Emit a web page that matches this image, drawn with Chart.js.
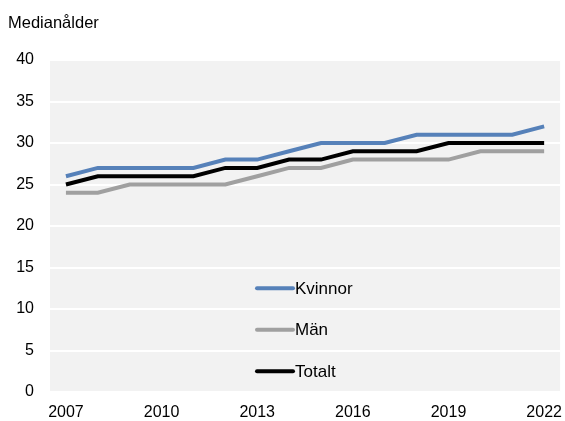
<!DOCTYPE html>
<html>
<head>
<meta charset="utf-8">
<script src="https://cdn.jsdelivr.net/npm/chart.js@4"></script>
<style>
    body { margin: 0; background: #fff; }
    canvas { display: block; }
</style>
</head>
<body>
<canvas id="ageChart" width="565" height="421"></canvas>
<script>
const years = ["2007", "2008", "2009", "2010", "2011", "2012", "2013", "2014",
               "2015", "2016", "2017", "2018", "2019", "2020", "2021", "2022"];
const kvinnor = [26, 27, 27, 27, 27, 28, 28, 29, 30, 30, 30, 31, 31, 31, 31, 32];
const man = [24, 24, 25, 25, 25, 25, 26, 27, 27, 28, 28, 28, 28, 29, 29, 29];
const totalt = [25, 26, 26, 26, 26, 27, 27, 28, 28, 29, 29, 29, 30, 30, 30, 30];
const yTitle = "Medianålder";
const legendSlots = [12.5, 7.5, 2.5]; // y values where legend rows sit

const FONT = "'Liberation Sans', Arial, sans-serif";

// grey plot background
const plotBg = {
    id: "plotBg",
    beforeDraw(chart) {
        const { ctx, chartArea: a } = chart;
        ctx.save();
        ctx.fillStyle = "#f2f2f2";
        ctx.fillRect(a.left, a.top, a.right - a.left, a.bottom - a.top);
        ctx.restore();
    }
};

// axis title + legend drawn inside the plot
const extras = {
    id: "extras",
    afterDraw(chart) {
        const { ctx, chartArea: a } = chart;
        const y = chart.scales.y;
        ctx.save();
        ctx.fillStyle = "#000";
        ctx.font = "16.5px " + FONT;
        ctx.textBaseline = "middle";
        ctx.textAlign = "left";
        ctx.fillText(yTitle, 8, 23);

        const x0 = a.left + 207;
        chart.data.datasets.forEach((ds, i) => {
            const py = y.getPixelForValue(legendSlots[i]);
            ctx.strokeStyle = ds.borderColor;
            ctx.lineWidth = 4;
            ctx.lineCap = "round";
            ctx.beginPath();
            ctx.moveTo(x0, py);
            ctx.lineTo(x0 + 36, py);
            ctx.stroke();
            ctx.font = "17px " + FONT;
            ctx.fillText(ds.label, x0 + 38, py + 1);
        });
        ctx.restore();
    }
};

function makeDataset(label, data, color) {
    return {
        label: label,
        data: data,
        borderColor: color,
        backgroundColor: color,
        borderWidth: 4,
        pointRadius: 0,
        tension: 0,
        fill: false
    };
}

new Chart(document.getElementById("ageChart"), {
    type: "line",
    data: {
        labels: years,
        datasets: [
            makeDataset("Kvinnor", kvinnor, "#5681b9"),
            makeDataset("Män", man, "#a0a0a0"),
            makeDataset("Totalt", totalt, "#000000")
        ]
    },
    options: {
        responsive: false,
        animation: false,
        layout: { padding: { top: 60, right: 2, left: 0, bottom: 0 } },
        plugins: {
            legend: { display: false },
            tooltip: { enabled: false }
        },
        scales: {
            x: {
                offset: true,
                grid: { display: false },
                border: { display: false },
                ticks: {
                    autoSkip: false,
                    maxRotation: 0,
                    color: "#000",
                    font: { family: FONT, size: 16 },
                    padding: 3,
                    callback: function (value, index) {
                        return index % 3 === 0 ? this.getLabelForValue(value) : "";
                    }
                },
                afterFit(scale) { scale.height = 29; }
            },
            y: {
                min: 0,
                max: 40,
                grid: { color: "#ffffff", lineWidth: 2, drawTicks: false },
                border: { display: false },
                ticks: {
                    stepSize: 5,
                    color: "#000",
                    font: { family: FONT, size: 16 },
                    padding: 16
                },
                afterFit(scale) { scale.width = 50; }
            }
        }
    },
    plugins: [plotBg, extras]
});
</script>
</body>
</html>
